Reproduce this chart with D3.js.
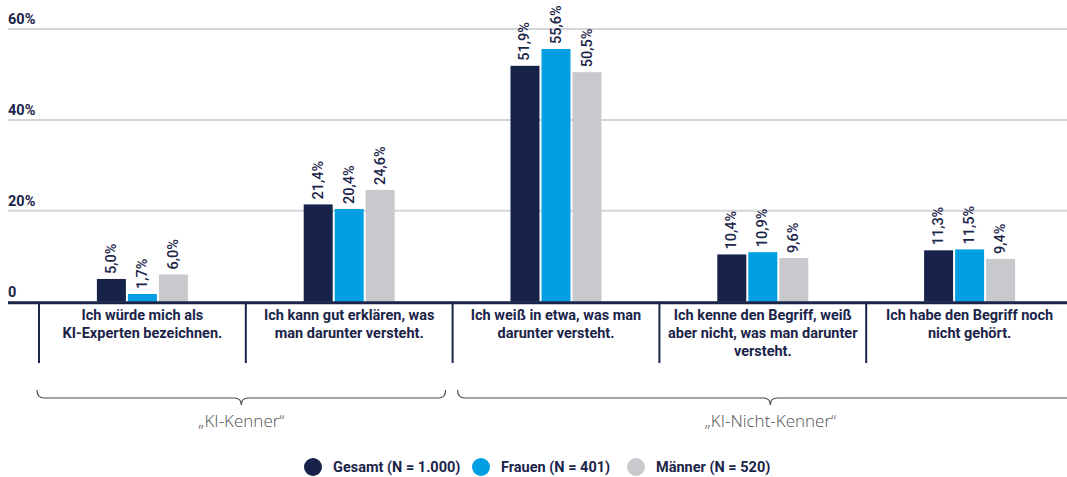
<!DOCTYPE html>
<html><head><meta charset="utf-8">
<script src="https://cdn.jsdelivr.net/npm/d3@7"></script>
<style>
html,body{margin:0;padding:0;background:#fff;}
svg{display:block;font-family:Roboto,"Noto Sans",sans-serif;}
</style></head>
<body>
<svg id="chart" width="1067" height="477"></svg>
<script>
const categories = [
  ["Ich würde mich als", "KI-Experten bezeichnen."],
  ["Ich kann gut erklären, was", "man darunter versteht."],
  ["Ich weiß in etwa, was man", "darunter versteht."],
  ["Ich kenne den Begriff, weiß", "aber nicht, was man darunter", "versteht."],
  ["Ich habe den Begriff noch", "nicht gehört."]
];
const seriesNames = ["Gesamt (N = 1.000)", "Frauen (N = 401)", "Männer (N = 520)"];
const gesamt = [5.0, 21.4, 51.9, 10.4, 11.3];
const frauen = [1.7, 20.4, 55.6, 10.9, 11.5];
const maenner = [6.0, 24.6, 50.5, 9.6, 9.4];
const yTicks = [0, 20, 40, 60];
const yTickLabels = ["0", "20%", "40%", "60%"];
const groups = [
  {label: "„KI-Kenner“", from: 0, to: 1},
  {label: "„KI-Nicht-Kenner“", from: 2, to: 4}
];
const colors = ["#17224a", "#009fe3", "#c8c9cc"];
const seriesValues = [gesamt, frauen, maenner];

const svg = d3.select("#chart");
const navy = "#1b2449";
const y = d3.scaleLinear().domain([0, 60]).range([301.7, 29]);
const x0 = d3.scaleBand().domain(d3.range(categories.length)).range([39, 1073]).padding(0);
const groupW = 91;

// gridlines
svg.append("g").selectAll("line").data(yTicks.filter(d => d > 0)).join("line")
  .attr("x1", 8).attr("x2", 1067)
  .attr("y1", d => y(d)).attr("y2", d => y(d))
  .attr("stroke", "#d3d5d9").attr("stroke-width", 2);

// tick labels
svg.append("g").selectAll("text").data(yTicks).join("text")
  .attr("x", 8).attr("y", d => y(d) - 5)
  .attr("fill", navy).attr("font-size", 14.5).attr("font-weight", 700)
  .text((d, i) => yTickLabels[i]);

// bars
const bars = svg.append("g");
categories.forEach((c, ci) => {
  const cx = x0(ci) + x0.bandwidth() / 2;
  const x1 = d3.scaleBand().domain(d3.range(3)).range([cx - groupW / 2, cx + groupW / 2]).paddingInner(0.065);
  seriesValues.forEach((vals, si) => {
    const v = vals[ci];
    bars.append("rect")
      .attr("x", x1(si)).attr("width", x1.bandwidth())
      .attr("y", y(v)).attr("height", y(0) - y(v))
      .attr("fill", colors[si]);
    const lx = x1(si) + x1.bandwidth() / 2 + 4.5;
    const ly = y(v) - 5;
    bars.append("text")
      .attr("transform", `translate(${lx},${ly}) rotate(-90)`)
      .attr("fill", navy).attr("font-size", 14.5).attr("font-weight", 500)
      .text(v.toFixed(1).replace(".", ",") + "%");
  });
});

// baseline
svg.append("line").attr("x1", 8).attr("x2", 1067).attr("y1", y(0) + 1).attr("y2", y(0) + 1)
  .attr("stroke", navy).attr("stroke-width", 3);

// dividers
svg.append("g").selectAll("line").data(d3.range(categories.length + 1)).join("line")
  .attr("x1", d => x0(d) !== undefined ? x0(d) : x0.range()[1])
  .attr("x2", d => x0(d) !== undefined ? x0(d) : x0.range()[1])
  .attr("y1", y(0)).attr("y2", 363)
  .attr("stroke", navy).attr("stroke-width", 2);

// category labels
categories.forEach((lines, ci) => {
  const cx = x0(ci) + x0.bandwidth() / 2;
  const t = svg.append("text").attr("text-anchor", "middle")
    .attr("fill", navy).attr("font-size", 14.5).attr("font-weight", 700);
  lines.forEach((l, li) => {
    t.append("tspan").attr("x", cx).attr("y", 320 + li * 18).text(l);
  });
});

// braces
groups.forEach((g, gi) => {
  const xa = gi === 0 ? x0(g.from) - 2 : x0(g.from) + 5;
  const right = gi === 0 ? x0(g.to) + x0.bandwidth() - 7 : x0(g.to) + x0.bandwidth() + 10;
  const mid = (xa + right) / 2;
  const top = 390, yl = 398, tip = 405, r = 7;
  const p = d3.path();
  p.moveTo(xa, top);
  p.quadraticCurveTo(xa, yl, xa + r, yl);
  p.lineTo(mid - r, yl);
  p.quadraticCurveTo(mid, yl, mid, tip);
  p.quadraticCurveTo(mid, yl, mid + r, yl);
  p.lineTo(right - r, yl);
  p.quadraticCurveTo(right, yl, right, top);
  svg.append("path").attr("d", p.toString()).attr("fill", "none")
    .attr("stroke", "#4a4a4a").attr("stroke-width", 1.2);
  svg.append("text").attr("x", mid).attr("y", 427).attr("text-anchor", "middle")
    .attr("fill", "#505050").attr("font-size", 17).attr("font-weight", 300)
    .attr("font-family", "'Open Sans', Roboto, sans-serif")
    .text(g.label);
});

// legend
const legendX = [313, 481, 636];
seriesNames.forEach((n, i) => {
  svg.append("circle").attr("cx", legendX[i]).attr("cy", 467).attr("r", 9).attr("fill", colors[i]);
  svg.append("text").attr("x", legendX[i] + 20).attr("y", 472)
    .attr("fill", navy).attr("font-size", 14.5).attr("font-weight", 700).text(n);
});
</script>
</body></html>
